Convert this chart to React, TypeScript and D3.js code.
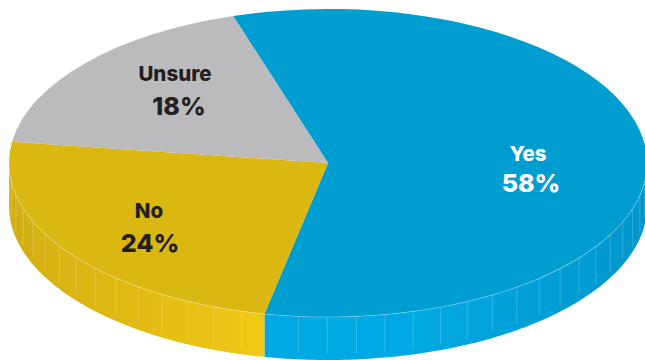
import React from "react";
import * as d3 from "d3";

const categories = ["Yes", "No", "Unsure"];
const shares = [58, 24, 18];
const topColors = ["#009dd1", "#dbb712", "#bbbbbe"];
const inkColors = ["#ffffff", "#231f20", "#231f20"];
// Wall shading runs from the edge of the disc towards the viewer.
const wallStops = [
  ["#00a9e3", "#0097cc"],
  ["#f0c815", "#d2ae12"],
];
const labelNames = [
  [528, 155],
  [149, 212],
  [175, 75],
];
const labelShares = [
  [531, 185],
  [150, 245],
  [179, 108],
];

const WIDTH = 645;
const HEIGHT = 360;
const CX = 328;
const CY = 163;
const RX = 319;
const RY = 154;
const DEPTH = 43;
const START = (-17.3 * Math.PI) / 180;
const RIB_STEP = (5.2 * Math.PI) / 180;

const pie = d3
  .pie<number>()
  .sort(null)
  .startAngle(START)
  .endAngle(START + 2 * Math.PI);
const arc = d3.arc<d3.PieArcDatum<number>>().innerRadius(0).outerRadius(RX);

const px = (a: number) => CX + RX * Math.sin(a);
const py = (a: number) => CY - RY * Math.cos(a);

const wallArea = d3
  .area<number>()
  .x((a) => px(a))
  .y0((a) => py(a))
  .y1((a) => py(a) + DEPTH);
const rimLine = d3
  .line<number>()
  .x((a) => px(a))
  .y((a) => py(a));

// Samples the part of a slice that faces the front of the disc.
function frontAngles(a0: number, a1: number): number[] {
  const from = Math.max(a0, Math.PI / 2);
  const to = Math.min(a1, (3 * Math.PI) / 2);
  if (to <= from) return [];
  const n = Math.ceil((to - from) / 0.01);
  return d3.range(n + 1).map((i) => from + ((to - from) * i) / n);
}

export default function App() {
  const slices = pie(shares);
  const ribAngles = d3.range(Math.PI / 2 + 0.03, (3 * Math.PI) / 2, RIB_STEP);
  const ends = slices.map((s) => s.endAngle);
  return (
    <svg
      width={WIDTH}
      height={HEIGHT}
      viewBox={`0 0 ${WIDTH} ${HEIGHT}`}
      style={{ position: "absolute", left: 0, top: 0, background: "#fff" }}
    >
      <defs>
        <linearGradient id="wall-0" gradientUnits="userSpaceOnUse" x1={262} x2={645} y1={0} y2={0}>
          <stop offset="0.4" stopColor={wallStops[0][0]} />
          <stop offset="1" stopColor={wallStops[0][1]} />
        </linearGradient>
        <linearGradient id="wall-1" gradientUnits="userSpaceOnUse" x1={262} x2={9} y1={0} y2={0}>
          <stop offset="0" stopColor={wallStops[1][0]} />
          <stop offset="1" stopColor={wallStops[1][1]} />
        </linearGradient>
      </defs>

      {slices.slice(0, 2).map((s, i) => (
        <path key={categories[i]} d={wallArea(frontAngles(s.startAngle, s.endAngle)) ?? ""} fill={`url(#wall-${i})`} />
      ))}

      {ribAngles
        .filter((a) => ends.every((e) => Math.abs(a - e) > 0.02))
        .map((a) => (
          <line
            key={a}
            x1={px(a)}
            x2={px(a)}
            y1={py(a)}
            y2={py(a) + DEPTH * 0.86}
            stroke="#fff"
            strokeOpacity={0.2}
            strokeWidth={1}
          />
        ))}

      {slices.map((s, i) => (
        <path
          key={categories[i]}
          d={arc(s) ?? ""}
          fill={topColors[i]}
          transform={`translate(${CX},${CY}) scale(1,${RY / RX})`}
        />
      ))}

      <path
        d={rimLine(frontAngles(Math.PI / 2, (3 * Math.PI) / 2)) ?? ""}
        fill="none"
        stroke="#fff"
        strokeOpacity={0.35}
        strokeWidth={0.8}
      />

      {categories.map((c, i) => (
        <g
          key={c}
          fill={inkColors[i]}
          textAnchor="middle"
          fontFamily="Inter, 'Open Sans', sans-serif"
          fontWeight={800}
        >
          <text x={labelNames[i][0]} y={labelNames[i][1]} fontSize={20.5} dominantBaseline="middle">
            {c}
          </text>
          <text x={labelShares[i][0]} y={labelShares[i][1]} fontSize={25} dominantBaseline="middle">
            {d3.format("d")(shares[i])}%
          </text>
        </g>
      ))}
    </svg>
  );
}
